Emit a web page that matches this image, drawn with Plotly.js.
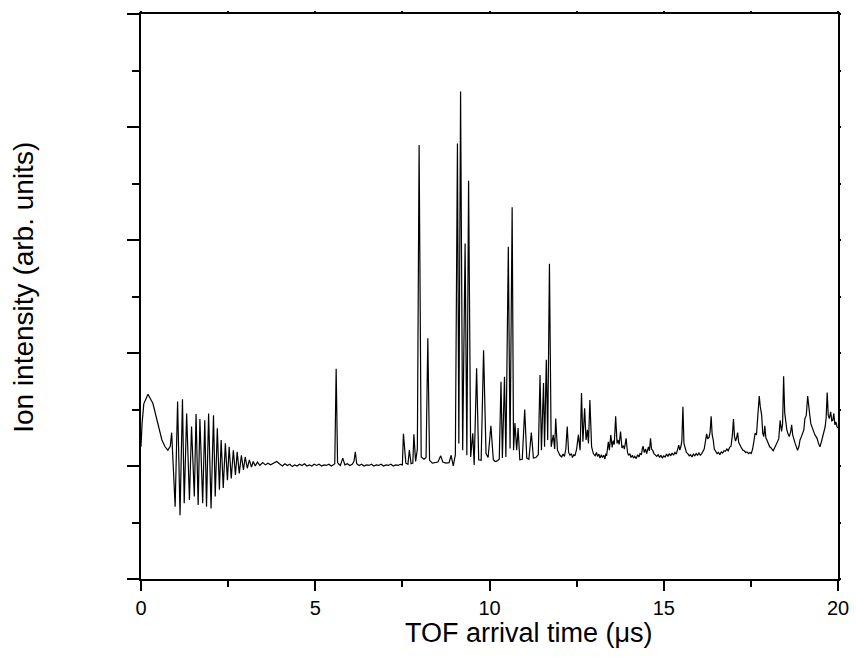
<!DOCTYPE html>
<html>
<head>
<meta charset="utf-8">
<script src="https://cdn.plot.ly/plotly-3.0.1.min.js"></script>
<style>html,body{margin:0;padding:0;background:#fff;}#chart{width:856px;height:657px;}</style>
</head>
<body>
<div id="chart"></div>
<script>
// TOF arrival time (microseconds)
const tofTime = [
  0.00,0.03,0.08,0.20,0.34,0.49,0.60,0.69,0.77,0.84,0.88,0.98,
  1.05,1.12,1.19,1.24,1.31,1.39,1.45,1.53,1.58,1.64,1.69,1.77,1.83,1.88,1.94,
  2.01,2.08,2.13,2.19,2.25,2.30,2.36,2.42,2.48,2.53,2.59,2.65,2.71,2.76,2.82,2.88,2.94,2.99,
  3.05,3.11,3.17,3.22,3.28,3.34,3.41,3.49,3.57,3.64,3.72,3.80,3.89,3.99,
  4.06,4.13,4.20,4.27,4.34,4.41,4.48,4.55,4.62,4.69,4.76,4.83,4.90,4.97,5.04,5.11,5.18,5.25,5.32,5.39,5.46,5.52,5.56,5.60,5.64,5.68,5.72,5.79,5.85,5.92,5.99,
  6.06,6.11,6.15,6.19,6.26,6.33,6.40,6.47,6.54,6.61,6.68,6.75,6.82,6.89,6.96,7.03,7.10,7.17,7.24,7.31,7.38,7.44,7.50,7.53,7.60,7.66,7.70,7.75,7.80,7.83,7.88,7.93,7.98,
  8.04,8.12,8.18,8.23,8.28,8.36,8.45,8.52,8.60,8.66,8.75,8.84,8.90,8.96,
  9.02,9.08,9.12,9.17,9.23,9.30,9.35,9.40,9.46,9.52,9.56,9.63,9.69,9.76,9.83,9.90,9.96,
  10.04,10.11,10.16,10.22,10.28,10.33,10.37,10.43,10.47,10.54,10.59,10.65,10.69,10.73,10.78,10.82,10.87,10.94,
  11.01,11.07,11.13,11.20,11.26,11.33,11.40,11.45,11.49,11.55,11.58,11.63,11.67,11.72,11.77,11.83,11.87,11.90,11.95,
  12.02,12.07,12.11,12.15,12.19,12.23,12.27,12.31,12.35,12.38,12.42,12.45,12.50,12.55,12.60,12.64,12.68,12.73,12.77,12.81,12.84,12.88,
  12.93,12.98,13.03,13.07,13.10,13.14,13.17,13.21,13.24,13.28,13.31,13.34,13.36,13.39,13.41,13.44,13.48,13.52,13.55,13.58,
  13.62,13.66,13.69,13.72,13.76,13.80,13.84,13.87,13.92,13.96,13.99,
  14.03,14.06,14.10,14.13,14.17,14.21,14.25,14.29,14.32,14.36,14.39,14.41,14.44,14.48,14.51,14.56,14.59,14.62,14.65,14.68,
  14.72,14.76,14.80,14.84,14.88,14.92,14.96,15.00,15.04,15.08,15.12,15.16,15.20,15.24,15.28,15.32,15.36,15.40,15.43,15.46,
  15.49,15.52,15.55,15.58,15.61,15.65,15.69,15.73,15.77,15.81,15.85,15.89,15.93,15.97,16.01,16.05,16.09,16.13,16.16,16.20,
  16.23,16.26,16.30,16.33,16.36,16.39,16.42,16.45,16.49,16.53,16.57,16.61,16.65,16.69,16.73,16.77,16.81,16.85,16.89,16.93,
  16.97,17.00,17.03,17.06,17.09,17.12,17.15,17.19,17.23,17.27,17.31,17.35,17.39,17.43,17.47,17.51,17.55,17.59,17.62,17.66,
  17.69,17.72,17.74,17.77,17.81,17.84,17.87,17.90,17.93,17.96,18.00,18.04,18.08,18.11,18.14,18.18,18.22,18.26,18.30,18.34,
  18.38,18.41,18.44,18.47,18.50,18.53,18.56,18.60,18.64,18.67,18.70,18.73,18.77,18.81,18.84,18.88,18.91,18.95,18.99,19.02,
  19.05,19.09,19.13,19.16,19.19,19.22,19.25,19.29,19.33,19.37,19.40,19.44,19.48,19.52,19.56,19.60,19.63,19.66,19.69,19.72,
  19.75,19.79,19.82,19.85,19.88,19.91,19.94,19.97,20.00
];
// Ion intensity (arb. units)
const ionIntensity = [
  2.34,2.75,3.10,3.27,3.11,2.76,2.46,2.34,2.28,2.35,2.59,1.28,
  3.14,1.13,3.18,1.34,2.93,1.40,2.70,1.46,2.92,1.31,2.83,1.34,2.81,1.28,2.93,
  1.25,2.90,1.46,2.67,1.58,2.46,1.61,2.40,1.75,2.34,1.78,2.28,1.84,2.25,1.87,2.19,1.93,2.16,
  1.96,2.11,1.98,2.08,2.00,2.07,2.01,2.06,2.02,2.05,2.02,2.05,2.08,2.03,
  2.00,2.04,2.01,2.03,1.99,2.02,2.00,2.03,2.01,2.04,2.00,2.02,2.00,2.03,2.01,2.03,2.00,2.02,2.01,2.03,2.00,2.02,2.04,3.72,2.06,2.03,2.01,2.14,2.02,2.04,2.01,
  2.03,2.08,2.25,2.04,2.01,2.03,2.00,2.02,2.01,2.03,2.00,2.02,2.01,2.03,2.00,2.02,2.01,2.03,2.00,2.02,2.01,2.03,2.02,2.57,2.05,2.03,2.28,2.04,2.05,2.56,2.08,2.30,7.68,
  2.16,2.12,2.15,4.26,2.10,2.05,2.06,2.07,2.18,2.07,2.05,2.06,2.19,2.00,
  2.20,7.71,2.40,8.63,2.28,5.94,2.19,7.05,2.16,2.58,2.02,3.73,2.11,2.10,4.05,2.22,2.15,
  2.71,2.11,2.08,2.09,2.12,3.49,2.14,3.58,2.16,5.88,2.31,6.58,2.28,2.76,2.28,2.67,2.11,2.12,
  3.00,2.14,2.12,2.59,2.14,2.15,2.20,3.61,2.28,3.47,2.34,3.88,2.46,5.58,2.34,2.55,2.30,2.84,2.28,
  2.19,2.16,2.21,2.17,2.30,2.70,2.24,2.19,2.22,2.15,2.20,2.18,2.30,2.55,2.28,3.29,2.43,3.02,2.46,2.64,2.40,3.17,
  2.34,2.22,2.18,2.24,2.17,2.21,2.14,2.20,2.15,2.19,2.12,2.22,2.18,2.35,2.43,2.28,2.55,2.33,2.45,2.38,
  2.88,2.40,2.46,2.38,2.61,2.32,2.36,2.30,2.49,2.24,2.19,
  2.22,2.15,2.19,2.14,2.17,2.13,2.20,2.16,2.22,2.20,2.32,2.35,2.24,2.30,2.22,2.34,2.27,2.49,2.30,2.28,
  2.22,2.20,2.17,2.20,2.15,2.19,2.14,2.18,2.16,2.21,2.17,2.22,2.18,2.23,2.19,2.24,2.21,2.30,2.37,2.28,
  2.34,2.45,3.05,2.40,2.30,2.24,2.22,2.18,2.20,2.16,2.21,2.18,2.22,2.19,2.23,2.19,2.22,2.26,2.30,2.45,
  2.57,2.48,2.51,2.60,2.88,2.55,2.46,2.30,2.25,2.22,2.24,2.20,2.25,2.23,2.27,2.26,2.30,2.27,2.33,2.35,
  2.55,2.83,2.52,2.44,2.50,2.59,2.42,2.36,2.32,2.28,2.27,2.24,2.25,2.22,2.24,2.22,2.30,2.45,2.58,2.55,
  2.84,2.95,3.24,3.05,2.90,2.58,2.52,2.71,2.50,2.46,2.40,2.34,2.32,2.29,2.27,2.32,2.38,2.42,2.48,2.81,
  2.61,2.75,3.59,2.95,2.76,2.65,2.58,2.52,2.60,2.73,2.55,2.46,2.40,2.33,2.28,2.35,2.46,2.52,2.62,2.64,
  2.84,2.90,3.24,3.11,2.90,2.75,2.69,2.61,2.56,2.52,2.49,2.40,2.34,2.42,2.52,2.58,2.69,2.85,3.30,2.90,
  2.84,2.96,2.80,2.81,2.93,2.73,2.78,2.70,2.67
];
const xTickVals = [0, 5, 10, 15, 20];
const xTickText = ['0', '5', '10', '15', '20'];
const xTitle = 'TOF arrival time (\u03bcs)';
const yTitle = 'Ion intensity (arb. units)';

const font = 'Liberation Sans, Arial, sans-serif';

const traces = [
  {
    x: tofTime, y: ionIntensity, type: 'scatter', mode: 'lines',
    line: {color: '#000', width: 1.2}, hoverinfo: 'skip', showlegend: false
  },
  {
    x: [], y: [], xaxis: 'x2', yaxis: 'y2', type: 'scatter', mode: 'lines',
    hoverinfo: 'skip', showlegend: false
  }
];

const layout = {
  width: 856, height: 657,
  margin: {l: 141, r: 18, t: 14, b: 78},
  paper_bgcolor: '#fff', plot_bgcolor: '#fff',
  showlegend: false,
  font: {family: font, color: '#000', size: 20},
  xaxis: {
    range: [0, 20], showgrid: false, zeroline: false,
    showline: true, linecolor: '#000', linewidth: 2, mirror: true,
    tickmode: 'array', tickvals: xTickVals, ticktext: xTickText,
    ticks: 'outside', ticklen: 10, tickwidth: 2, tickcolor: '#000',
    minor: {dtick: 2.5, ticks: 'outside', ticklen: 6, tickwidth: 2, tickcolor: '#000', showgrid: false},
    tickfont: {family: font, size: 20, color: '#000'}
  },
  yaxis: {
    range: [0, 10], showgrid: false, zeroline: false,
    showline: true, linecolor: '#000', linewidth: 2, mirror: true,
    tickmode: 'linear', tick0: 0, dtick: 2, showticklabels: false,
    ticks: 'outside', ticklen: 12, tickwidth: 2, tickcolor: '#000',
    minor: {dtick: 1, ticks: 'outside', ticklen: 7, tickwidth: 2, tickcolor: '#000', showgrid: false}
  },
  xaxis2: {
    overlaying: 'x', side: 'top', anchor: 'y2', range: [0, 20], showgrid: false, zeroline: false,
    showline: false, showticklabels: false, tickmode: 'linear', tick0: 0, dtick: 2.5,
    ticks: 'outside', ticklen: 2, tickwidth: 2, tickcolor: '#000'
  },
  yaxis2: {
    overlaying: 'y', side: 'right', anchor: 'x2', range: [0, 10], showgrid: false, zeroline: false,
    showline: false, showticklabels: false, tickmode: 'linear', tick0: 0, dtick: 1,
    ticks: 'outside', ticklen: 2, tickwidth: 2, tickcolor: '#000'
  },
  annotations: [
    {text: xTitle, xref: 'paper', yref: 'paper', x: 0.557, y: -0.0956,
     xanchor: 'center', yanchor: 'middle', showarrow: false,
     font: {family: font, size: 27, color: '#000'}},
    {text: yTitle, xref: 'paper', yref: 'paper', x: -0.168, y: 0.517,
     xanchor: 'center', yanchor: 'middle', showarrow: false, textangle: -90,
     font: {family: font, size: 28, color: '#000'}}
  ]
};

Plotly.newPlot('chart', traces, layout, {displayModeBar: false, staticPlot: true});
</script>
</body>
</html>
